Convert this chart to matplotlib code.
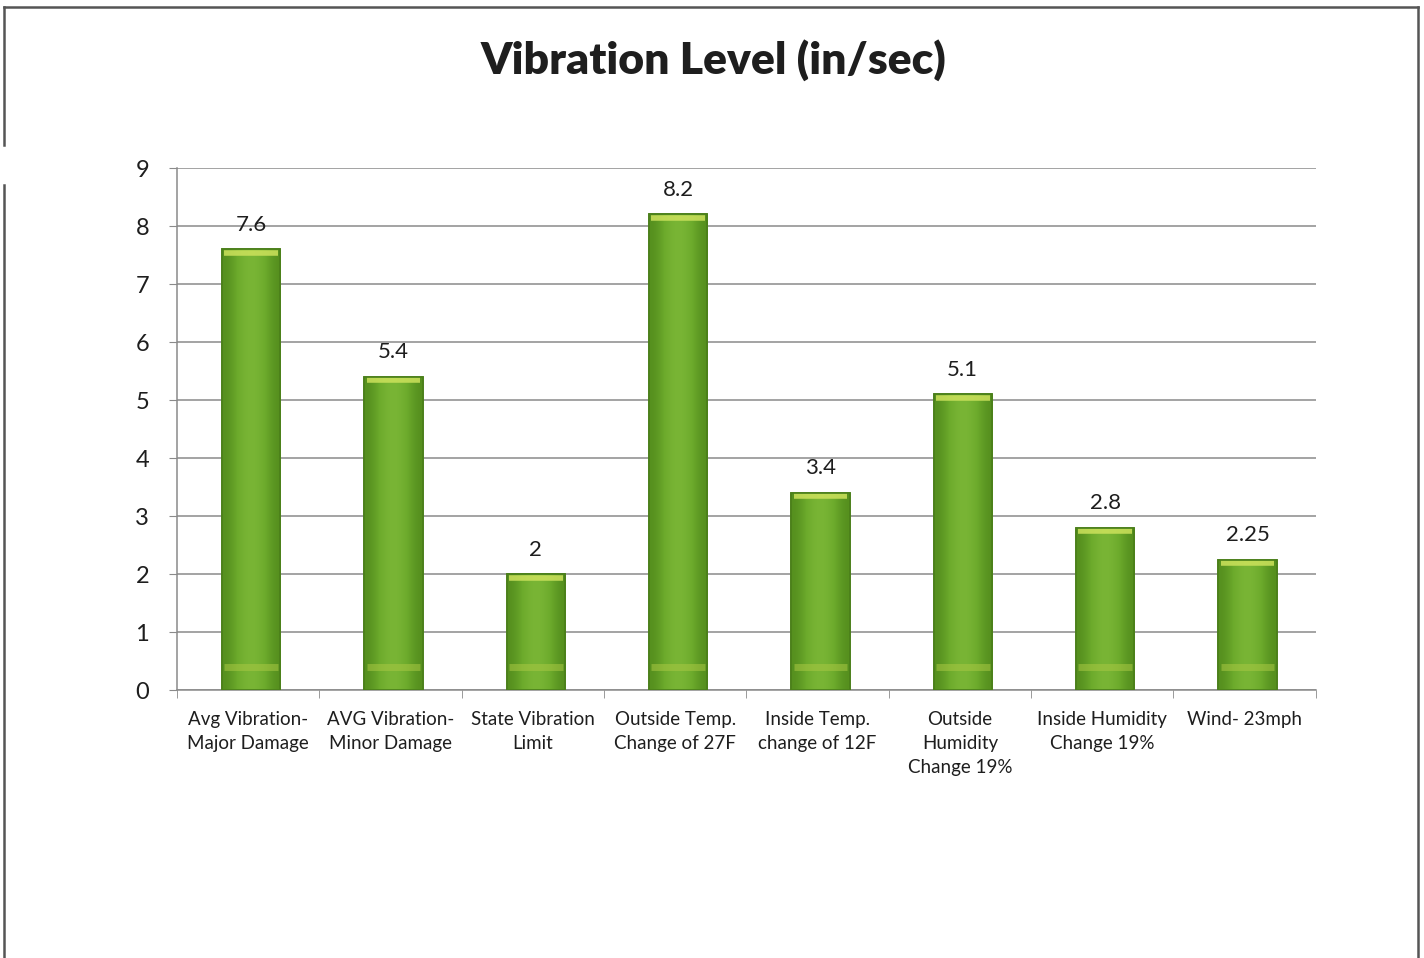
import numpy as np
import matplotlib
matplotlib.use('Agg')
import matplotlib.pyplot as plt
from matplotlib.lines import Line2D

# Data
categories = ['Avg Vibration-\nMajor Damage', 'AVG Vibration-\nMinor Damage',
              'State Vibration\nLimit', 'Outside Temp.\nChange of 27F',
              'Inside Temp.\nchange of 12F', 'Outside\nHumidity\nChange 19%',
              'Inside Humidity\nChange 19%', 'Wind- 23mph']
values = [7.6, 5.4, 2, 8.2, 3.4, 5.1, 2.8, 2.25]
value_labels = ['7.6', '5.4', '2', '8.2', '3.4', '5.1', '2.8', '2.25']
y_ticks = list(range(0, 10))

plt.rcParams['font.family'] = ['Lato', 'DejaVu Sans']

fig = plt.figure(figsize=(14.24, 9.58), dpi=100)
ax = fig.add_axes([0.1243, 0.2797, 0.7997, 0.5449])

x = np.arange(len(values))
bars = ax.bar(x + 0.02, values, width=0.41, color='#6aa82a', edgecolor='#4a7f1a',
              linewidth=1.2, zorder=3)

# horizontal gradient inside each bar (dark edges, lighter middle)
grad = np.array([[0.0, 0.55, 0.9, 0.55, 0.0]])
cmap = matplotlib.colors.LinearSegmentedColormap.from_list(
    'barg', ['#558f1e', '#6dab2c', '#7db838'])
for b in bars:
    x0, y0 = b.get_x(), b.get_y()
    w, h = b.get_width(), b.get_height()
    im = ax.imshow(grad, extent=[x0, x0 + w, y0, y0 + h], cmap=cmap,
                   aspect='auto', interpolation='bicubic', zorder=3.5)
    im.set_clip_path(b)
    # light yellowish cap on top and band near the bottom
    ax.plot([x0 + w * 0.04, x0 + w * 0.96], [y0 + h - 0.06, y0 + h - 0.06],
            color='#cde25c', lw=4, alpha=0.85, zorder=4, solid_capstyle='butt')
    ax.plot([x0 + w * 0.04, x0 + w * 0.96], [0.4, 0.4],
            color='#a9c843', lw=5, alpha=0.55, zorder=4, solid_capstyle='butt')
    ax.add_patch(plt.Rectangle((x0, y0), w, h, fill=False,
                               edgecolor='#4a7f1a', lw=1.2, zorder=5))

for xi, v, lab in zip(x + 0.02, values, value_labels):
    ax.text(xi, v + 0.25, lab, ha='center', va='bottom', fontsize=16,
            color='#1e1e1e', zorder=6)

ax.set_xlim(-0.5, len(values) - 0.5)
ax.set_ylim(0, 9)
ax.set_yticks(y_ticks)
ax.set_yticklabels([str(t) for t in y_ticks], fontsize=17, color='#1e1e1e')
ax.yaxis.grid(True, color='#8a8a8a', linewidth=1.1, zorder=0)
ax.set_axisbelow(True)

ax.set_xticks(x)
ax.set_xticklabels(categories, fontsize=13.5, color='#1e1e1e', linespacing=1.5)
ax.tick_params(axis='x', length=0, pad=15)
ax.set_xticks(np.arange(-0.5, len(values)), minor=True)
ax.tick_params(axis='x', which='minor', length=6, direction='out', color='#8a8a8a')
ax.tick_params(axis='y', length=6, direction='out', color='#8a8a8a', pad=14)

for s in ['top', 'right']:
    ax.spines[s].set_visible(False)
ax.spines['left'].set_color('#8a8a8a')
ax.spines['bottom'].set_color('#8a8a8a')
ax.spines['left'].set_linewidth(1.1)
ax.spines['bottom'].set_linewidth(1.1)

fig.text(0.501, 0.937, 'Vibration Level (in/sec)', ha='center', va='center',
         fontsize=32, fontweight='heavy', color='#1e1e1e')

# chart frame (scanned border)
def fx(px):
    return px / 1424

def fy(py):
    return 1 - py / 958

frame = dict(color='#555555', lw=1.8, transform=fig.transFigure)
fig.add_artist(Line2D([fx(4), fx(1418)], [fy(7), fy(7)], **frame))
fig.add_artist(Line2D([fx(4), fx(4)], [fy(7), fy(145)], **frame))
fig.add_artist(Line2D([fx(4), fx(4)], [fy(185), fy(958)], **frame))
fig.add_artist(Line2D([fx(1418), fx(1418)], [fy(7), fy(958)], **frame))

fig.savefig('out.png', dpi=100, facecolor='white')
